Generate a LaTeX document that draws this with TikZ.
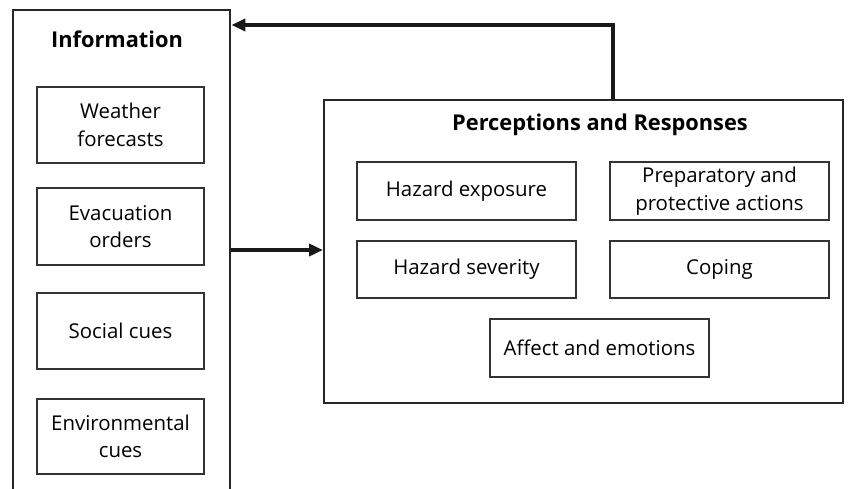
\documentclass[tikz,border=0pt]{standalone}
\usepackage{fontspec}
\setmainfont{Open Sans}
\usetikzlibrary{arrows.meta,calc}
\begin{document}
\begin{tikzpicture}[x=1pt,y=-1pt,
  outerbox/.style={draw=black!85,line width=2.4pt,rectangle,inner sep=0pt},
  itembox/.style={draw=black!80,line width=1.1pt,rectangle,inner sep=0pt,align=center,font=\fontsize{20.4}{27.5}\selectfont},
  titletext/.style={font=\bfseries\fontsize{21.8}{27}\selectfont,inner sep=0pt},
  flow/.style={line width=3.6pt,draw=black!90,-{Triangle[length=14pt,width=12pt]}}]
\useasboundingbox (0,0) rectangle (848,488);
\clip (0,0) rectangle (848,488);
% outer boxes
\node[outerbox,minimum width=217pt,minimum height=500pt,anchor=north west] (info) at (12,9) {};
\node[outerbox,minimum width=519pt,minimum height=303pt,anchor=north west] (pr) at (323,99) {};
% titles
\node[titletext] (infotitle) at (117,39) {Information};
\node[titletext] (prtitle) at (600,125) {Perceptions and Responses};
% left items
\node[itembox,minimum width=167pt,minimum height=76pt] (wf) at (120.5,125) {Weather\\forecasts};
\node[itembox,minimum width=167pt,minimum height=77pt] (eo) at (120.5,226.5) {Evacuation\\orders};
\node[itembox,minimum width=167pt,minimum height=76pt] (sc) at (120.5,331) {Social cues};
\node[itembox,minimum width=167pt,minimum height=75pt] (ec) at (120.5,436.5) {Environmental\\cues};
% right items
\node[itembox,minimum width=219pt,minimum height=58pt] (he) at (466.5,191) {Hazard exposure};
\node[itembox,minimum width=219pt,minimum height=58pt] (pa) at (719.5,191) {Preparatory and\\protective actions};
\node[itembox,minimum width=219pt,minimum height=57pt] (hs) at (466.5,269.5) {Hazard severity};
\node[itembox,minimum width=219pt,minimum height=57pt] (cp) at (719.5,269.5) {Coping};
\node[itembox,minimum width=219pt,minimum height=58pt] (ae) at (599.5,348) {Affect and emotions};
% connectors
\coordinate (topbend) at (613,25);
\draw[flow] (pr.north -| topbend) -- (topbend) -- (info.east |- topbend);
\draw[flow] (info.east |- 0,250) -- (pr.west |- 0,250);
\end{tikzpicture}
\end{document}
